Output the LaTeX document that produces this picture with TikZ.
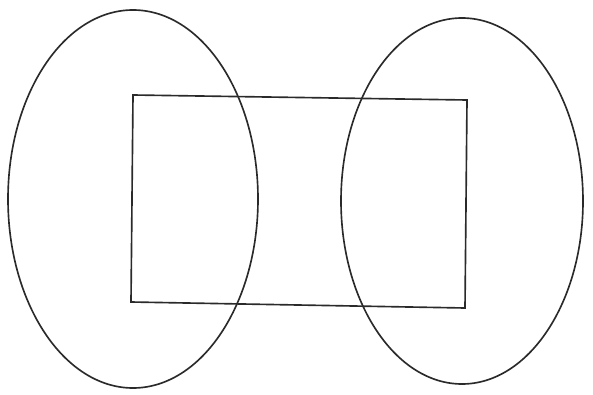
\documentclass[tikz,border=0pt]{standalone}
\usepackage{tikz}
\usetikzlibrary{positioning}
\definecolor{lineclr}{HTML}{2A2A2A}

\begin{document}
\begin{tikzpicture}[
  x=0.03cm, y=-0.03cm,
  outline/.style={draw=lineclr, line width=1.4pt},
]
  \useasboundingbox (0,0) rectangle (593,394);

  % Left and right ovals
  \draw[outline] (133,199) ellipse [x radius=125, y radius=189];
  \draw[outline] (462,201) ellipse [x radius=121, y radius=183];

  % Middle box
  \draw[outline] (133,95) -- (467,100) -- (465,308) -- (131,302) -- cycle;
\end{tikzpicture}
\end{document}
